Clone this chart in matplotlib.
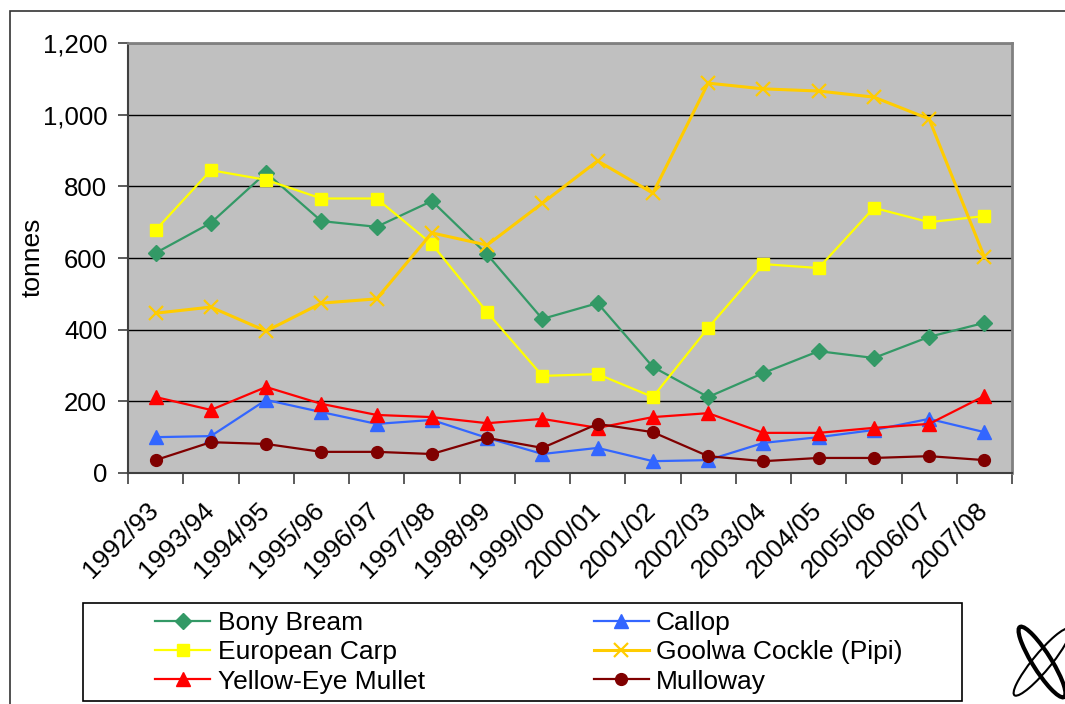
import matplotlib
matplotlib.use("Agg")
import matplotlib.pyplot as plt
import matplotlib.transforms as mtransforms
from matplotlib.patches import Rectangle, Ellipse

plt.rcParams['font.family'] = ['Liberation Sans', 'DejaVu Sans']

seasons = ["1992/93", "1993/94", "1994/95", "1995/96", "1996/97", "1997/98",
           "1998/99", "1999/00", "2000/01", "2001/02", "2002/03", "2003/04",
           "2004/05", "2005/06", "2006/07", "2007/08"]

bony_bream = [614, 698, 838, 703, 687, 759, 610, 430, 474, 296, 212, 279, 340, 321, 380, 419]
callop = [100, 103, 204, 170, 137, 148, 98, 53, 70, 33, 36, 84, 100, 120, 151, 114]
european_carp = [678, 845, 818, 766, 766, 639, 449, 271, 276, 212, 405, 583, 572, 740, 700, 717]
goolwa_cockle = [446, 463, 396, 474, 486, 670, 636, 753, 871, 781, 1088, 1072, 1066, 1049, 988, 603]
yellow_eye_mullet = [212, 176, 240, 193, 162, 156, 139, 151, 126, 156, 167, 112, 112, 126, 137, 215]
mulloway = [36, 86, 81, 59, 59, 53, 98, 70, 137, 114, 47, 33, 42, 42, 47, 36]

W, H = 1065, 704
FS = 19
fig = plt.figure(figsize=(W / 100, H / 100), dpi=100)

# outer frame of the chart object
fig.patches.append(Rectangle((10 / W, -0.1), 1.2, 1 - 11 / H + 0.1, transform=fig.transFigure,
                             fill=False, edgecolor="#333333", linewidth=1.2))

ax = fig.add_axes([128 / W, 1 - 473 / H, (1012 - 128) / W, (473 - 43) / H])
ax.set_facecolor("#c0c0c0")

x = list(range(len(seasons)))
ms = dict(linewidth=1.6)
l1, = ax.plot(x, bony_bream, color="#339966", marker="D", markersize=8, label="Bony Bream", **ms)
l2, = ax.plot(x, callop, color="#3366ff", marker="^", markersize=10.5, label="Callop", **ms)
l3, = ax.plot(x, european_carp, color="#ffff00", marker="s", markersize=9, label="European Carp", **ms)
l4, = ax.plot(x, goolwa_cockle, color="#ffcc00", marker="x", markersize=10, markeredgewidth=1.6,
              label="Goolwa Cockle (Pipi)", linewidth=2.2)
l5, = ax.plot(x, yellow_eye_mullet, color="#ff0000", marker="^", markersize=10.5, label="Yellow-Eye Mullet", **ms)
l6, = ax.plot(x, mulloway, color="#800000", marker="o", markersize=8.5, label="Mulloway", **ms)

ax.set_xlim(-0.5, len(seasons) - 0.5)
ax.set_ylim(0, 1200)
ax.set_yticks(range(0, 1201, 200))
ax.set_yticklabels([f"{v:,}" for v in range(0, 1201, 200)], fontsize=18.5)
ax.yaxis.grid(True, color="black", linewidth=1)
ax.set_axisbelow(True)
ax.tick_params(axis="y", length=7, width=1.2, color="#404040", pad=8)

ax.set_xticks(x)
ax.set_xticklabels(seasons, rotation=45, ha="right", va="top", rotation_mode="anchor", fontsize=FS)
ax.set_xticks([i - 0.5 for i in range(len(seasons) + 1)], minor=True)
ax.tick_params(axis="x", which="major", length=0, pad=14)
ax.tick_params(axis="x", which="minor", length=8, width=1.2, color="#404040")
shift = mtransforms.ScaledTranslation(-0.09, -0.06, fig.dpi_scale_trans)
for lab in ax.get_xticklabels():
    lab.set_transform(lab.get_transform() + shift)

for side in ("left", "bottom"):
    ax.spines[side].set_color("#404040")
    ax.spines[side].set_linewidth(1.5)
for side in ("top", "right"):
    ax.spines[side].set_color("#808080")
    ax.spines[side].set_linewidth(2)

fig.text(33 / W, 1 - 257 / H, "tonnes", rotation=90, ha="center", va="center", fontsize=FS)

# legend box
fig.patches.append(Rectangle((83 / W, 1 - 701 / H), (962 - 83) / W, (701 - 603) / H,
                             transform=fig.transFigure, fill=False, edgecolor="black", linewidth=1.2))
fig.legend([l1, l3, l5, l2, l4, l6],
           ["Bony Bream", "European Carp", "Yellow-Eye Mullet", "Callop", "Goolwa Cockle (Pipi)", "Mulloway"],
           ncol=2, frameon=False, loc="upper left", bbox_to_anchor=(155 / W, 1 - 611 / H),
           borderpad=0, borderaxespad=0, fontsize=FS, handlelength=2.1, handletextpad=0.27,
           labelspacing=0.2, columnspacing=6.4)

# logo mark
for ang, lw in ((22, 3), (-28, 1.5)):
    fig.patches.append(Ellipse((1042 / W, 1 - 662 / H), 20 / W, 76 / H, angle=ang,
                               transform=fig.transFigure, fill=False, edgecolor="black", linewidth=lw))

fig.savefig("out.png", dpi=100)
